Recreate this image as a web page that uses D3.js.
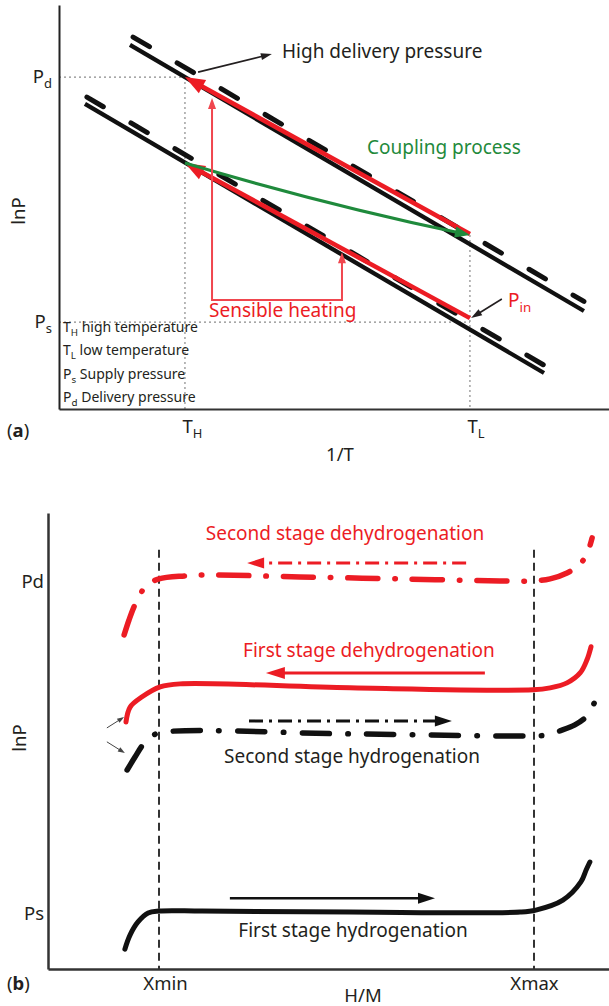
<!DOCTYPE html>
<html>
<head>
<meta charset="utf-8">
<script src="https://cdn.jsdelivr.net/npm/d3@7"></script>
<style>
  body { margin: 0; background: #fff; }
  svg { display: block; font-family: "Noto Sans", sans-serif; }
</style>
</head>
<body>
<svg id="chart" width="609" height="1006"></svg>
<script>
// ---------- Panel (a): lnP against 1/T  (T_H = 1, T_L = 2, P_s = 1, P_d = 2) ----------
const aXTicks = [1, 2];
const aXTickLabels = [["T", "H"], ["T", "L"]];
const aYTicks = [1, 2];
const aYTickLabels = [["P", "s"], ["P", "d"]];

const isoHighSolid = [[0.807, 2.131], [2.400, 1.045]];
const isoHighDashed = [[0.818, 2.163], [2.400, 1.084]];
const isoLowSolid = [[0.649, 1.890], [2.260, 0.792]];
const isoLowDashed = [[0.656, 1.918], [2.267, 0.819]];

const redHigh = [[2.0, 1.359], [1.0, 2.0]];
const redLow = [[2.0, 1.016], [1.0, 1.649]];
const coupling = [[1.0, 1.649], [1.5, 1.489], [2.0, 1.355]];
const sensible = [[1.095, 1.914], [1.095, 1.090], [1.551, 1.090], [1.551, 1.285]];
const pointerHigh = [[1.046, 2.020], [1.305, 2.094]];
const pointerPin = [[2.112, 1.094], [2.004, 1.016]];

const legendA = [
  ["T", "H", " high temperature"],
  ["T", "L", " low temperature"],
  ["P", "s", " Supply pressure"],
  ["P", "d", " Delivery pressure"]
];

// ---------- Panel (b): lnP against H/M  (Xmin = 1, Xmax = 2, Ps = 1, Pd = 2) ----------
const bXTicks = [1, 2];
const bXTickLabels = ["Xmin", "Xmax"];
const bYTicks = [1, 2];
const bYTickLabels = ["Ps", "Pd"];
const bGuideTop = 2.097;

const hydro1 = [[0.909, 0.891], [0.923, 0.934], [0.944, 0.973], [0.971, 1.0], [1.0, 1.006], [1.115, 1.006],
  [1.509, 1.003], [1.963, 1.003], [2.005, 1.009], [2.077, 1.039], [2.125, 1.094], [2.139, 1.130], [2.149, 1.154]];
const hydro2 = [[0.915, 1.432], [0.936, 1.471], [0.957, 1.508], [0.976, 1.529], [1.0, 1.544], [1.509, 1.541],
  [2.0, 1.535], [2.037, 1.538], [2.069, 1.550], [2.109, 1.568], [2.141, 1.595], [2.168, 1.653]];
const dehydro1 = [[0.912, 1.577], [0.923, 1.622], [0.955, 1.653], [1.003, 1.683], [1.056, 1.692], [1.509, 1.680],
  [1.997, 1.674], [2.043, 1.680], [2.088, 1.695], [2.123, 1.725], [2.141, 1.764], [2.152, 1.804]];
const dehydro2 = [[0.907, 1.840], [0.920, 1.885], [0.933, 1.924], [0.949, 1.961], [0.968, 1.991], [1.0, 2.009],
  [1.069, 2.018], [1.115, 2.021], [1.376, 2.015], [1.643, 2.009], [1.909, 2.003], [2.0, 2.003], [2.043, 2.009],
  [2.088, 2.027], [2.117, 2.048], [2.139, 2.079], [2.155, 2.133]];

const arrowHydro1 = [[1.189, 1.045], [1.736, 1.045]];
const arrowHydro2 = [[1.240, 1.580], [1.781, 1.580]];
const arrowDehydro1 = [[1.869, 1.725], [1.285, 1.725]];
const arrowDehydro2 = [[1.819, 2.057], [1.235, 2.057]];
const pointerRed = [[0.861, 1.559], [0.907, 1.592]];
const pointerBlack = [[0.861, 1.517], [0.909, 1.483]];

// ---------- colours ----------
const ink = "#231f20";
const red = "#ec1c24";
const redThin = "#f0464e";
const green = "#1f8a3c";

const svg = d3.select("#chart");

// draws a polyline (pixel points) with filled triangle heads
function drawArrow(g, pts, o) {
  const n = pts.length;
  const p = pts.map(d => d.slice());
  const pull = (a, b, L) => {
    const dx = b[0] - a[0], dy = b[1] - a[1], d = Math.hypot(dx, dy);
    return [b[0] - dx / d * L, b[1] - dy / d * L];
  };
  const heads = [];
  if (o.end !== false) { heads.push([pts[n - 2], pts[n - 1]]); p[n - 1] = pull(pts[n - 2], pts[n - 1], o.len * 0.7); }
  if (o.start) { heads.push([pts[1], pts[0]]); p[0] = pull(pts[1], pts[0], o.len * 0.7); }
  g.append("path")
    .attr("d", d3.line()(p))
    .attr("fill", "none")
    .attr("stroke", o.color)
    .attr("stroke-width", o.width)
    .attr("stroke-dasharray", o.dash || null);
  heads.forEach(([a, b]) => drawHead(g, a, b, o));
}

function drawHead(g, a, b, o) {
  const ang = Math.atan2(b[1] - a[1], b[0] - a[0]) * 180 / Math.PI;
  g.append("path")
    .attr("d", `M0,0L${-o.len},${o.wid / 2}L${-o.len},${-o.wid / 2}Z`)
    .attr("transform", `translate(${b[0]},${b[1]}) rotate(${ang})`)
    .attr("fill", o.color);
}

// text with a subscript, e.g. T_H
function subText(t, main, sub, rest, fs) {
  t.append("tspan").text(main);
  t.append("tspan").attr("font-size", fs * 0.7).attr("dy", fs * 0.28).text(sub);
  if (rest) t.append("tspan").attr("dy", -fs * 0.28).text(rest);
}

// =================== PANEL A ===================
const xA = d3.scaleLinear().domain([0.558, 2.488]).range([59, 609]);
const yA = d3.scaleLinear().domain([0.645, 2.294]).range([409, 5]);
const pa = d => [xA(d[0]), yA(d[1])];
const gA = svg.append("g");

// dotted guides
const guideA = [
  [[xA.domain()[0], 2], [1, 2]],
  [[1, 2], [1, yA.domain()[0]]],
  [[xA.domain()[0], 1], [2, 1]],
  [[2, 1.355], [2, yA.domain()[0]]]
];
gA.selectAll(".guide").data(guideA).join("path")
  .attr("d", d => d3.line()(d.map(pa)))
  .attr("stroke", "#8a8a8a").attr("stroke-width", 1.2).attr("stroke-dasharray", "2,3").attr("fill", "none");

// axes
const axAx = gA.append("g").attr("transform", `translate(0,${yA.range()[0]})`)
  .call(d3.axisBottom(xA).tickValues(aXTicks).tickSize(0).tickSizeOuter(0).tickFormat(""));
const axAy = gA.append("g").attr("transform", `translate(${xA.range()[0]},0)`)
  .call(d3.axisLeft(yA).tickValues(aYTicks).tickSize(0).tickSizeOuter(0).tickFormat(""));
axAx.select(".domain").attr("stroke", "#333").attr("stroke-width", 2);
axAy.select(".domain").attr("stroke", "#222").attr("stroke-width", 2);
[axAx, axAy].forEach(a => a.attr("font-family", null).attr("font-size", 18.5));
axAx.selectAll(".tick text").each(function (d, i) {
  const t = d3.select(this).attr("text-anchor", "start").attr("x", -3).attr("y", 24).attr("dy", 0).attr("fill", ink);
  subText(t, aXTickLabels[i][0], aXTickLabels[i][1], null, 18.5);
});
axAy.selectAll(".tick text").each(function (d, i) {
  const t = d3.select(this).attr("x", -7).attr("dy", "0.3em").attr("fill", ink);
  subText(t, aYTickLabels[i][0], aYTickLabels[i][1], null, 18.5);
});

// isotherm lines
const lineA = d3.line().x(d => xA(d[0])).y(d => yA(d[1]));
[isoHighSolid, isoLowSolid].forEach(l => gA.append("path").attr("d", lineA(l))
  .attr("stroke", "#111").attr("stroke-width", 4.3).attr("fill", "none"));
[isoHighDashed, isoLowDashed].forEach(l => gA.append("path").attr("d", lineA(l))
  .attr("stroke", "#111").attr("stroke-width", 5).attr("stroke-linecap", "round")
  .attr("stroke-dasharray", "19,32").attr("fill", "none"));

// red process arrows
drawArrow(gA, redHigh.map(pa), { color: red, width: 4.5, len: 20, wid: 15 });
drawArrow(gA, redLow.map(pa), { color: red, width: 4.5, len: 20, wid: 15 });

// coupling (green, slightly bowed)
{
  const [p0, pm, p2] = coupling.map(pa);
  const c = [2 * pm[0] - (p0[0] + p2[0]) / 2, 2 * pm[1] - (p0[1] + p2[1]) / 2];
  const dx = p2[0] - c[0], dy = p2[1] - c[1], dl = Math.hypot(dx, dy);
  const e = [p2[0] - dx / dl * 10, p2[1] - dy / dl * 10];
  const path = d3.path();
  path.moveTo(p0[0], p0[1]);
  path.quadraticCurveTo(c[0], c[1], e[0], e[1]);
  gA.append("path").attr("d", path.toString()).attr("stroke", green).attr("stroke-width", 3).attr("fill", "none");
  drawHead(gA, c, p2, { color: green, len: 15, wid: 11 });
}

// sensible heating bracket
drawArrow(gA, sensible.map(pa), { color: redThin, width: 2, len: 11, wid: 8, start: true });

// pointers
drawArrow(gA, pointerHigh.map(pa), { color: ink, width: 1.6, len: 11, wid: 7 });
drawArrow(gA, pointerPin.map(pa), { color: ink, width: 1.6, len: 11, wid: 7 });

// annotation text
gA.append("text").attr("x", 282).attr("y", 58).attr("font-size", 19).attr("fill", ink).text("High delivery pressure");
gA.append("text").attr("x", 367).attr("y", 154).attr("font-size", 19).attr("fill", green).text("Coupling process");
gA.append("text").attr("x", 209).attr("y", 317).attr("font-size", 19).attr("fill", red).text("Sensible heating");
subText(gA.append("text").attr("x", 508).attr("y", 307).attr("font-size", 19).attr("fill", red), "P", "in", null, 19);

gA.selectAll(".legend").data(legendA).join("text")
  .attr("x", 63).attr("y", (d, i) => 332 + i * 23.3)
  .attr("font-size", 14).attr("fill", ink)
  .each(function (d) { subText(d3.select(this), d[0], d[1], d[2], 14); });

gA.append("text").attr("transform", "translate(25,211) rotate(-90)").attr("text-anchor", "middle")
  .attr("font-size", 18.5).attr("fill", ink).text("lnP");
gA.append("text").attr("x", 340).attr("y", 461).attr("text-anchor", "middle")
  .attr("font-size", 18.5).attr("fill", ink).text("1/T");
{
  const t = gA.append("text").attr("x", 7).attr("y", 437).attr("font-size", 18.5).attr("fill", ink);
  t.append("tspan").text("(");
  t.append("tspan").attr("font-weight", "bold").text("a");
  t.append("tspan").text(")");
}

// =================== PANEL B ===================
const xB = d3.scaleLinear().domain([0.704, 2.2]).range([48, 609]);
const yB = d3.scaleLinear().domain([0.831, 2.208]).range([969, 513]);
const pb = d => [xB(d[0]), yB(d[1])];
const gB = svg.append("g");

// Xmin / Xmax dashed guides
gB.selectAll(".vguide").data(bXTicks).join("line")
  .attr("x1", d => xB(d)).attr("x2", d => xB(d))
  .attr("y1", yB(bGuideTop)).attr("y2", yB.range()[0])
  .attr("stroke", "#333").attr("stroke-width", 2).attr("stroke-dasharray", "8,5");

const axBx = gB.append("g").attr("transform", `translate(0,${yB.range()[0]})`)
  .call(d3.axisBottom(xB).tickValues(bXTicks).tickSize(0).tickSizeOuter(0).tickFormat((d, i) => bXTickLabels[i]));
const axBy = gB.append("g").attr("transform", `translate(${xB.range()[0]},0)`)
  .call(d3.axisLeft(yB).tickValues(bYTicks).tickSize(0).tickSizeOuter(0).tickFormat((d, i) => bYTickLabels[i]));
[axBx, axBy].forEach(a => {
  a.attr("font-family", null).attr("font-size", 18.5);
  a.select(".domain").attr("stroke", "#333").attr("stroke-width", 2.5);
  a.selectAll(".tick text").attr("fill", ink);
});
axBx.selectAll(".tick text").attr("y", 21).attr("dy", 0).attr("dx", (d, i) => i === 0 ? 6 : 0);
axBy.selectAll(".tick text").attr("x", -4).attr("dy", "0.33em");

const curveB = d3.line().x(d => xB(d[0])).y(d => yB(d[1])).curve(d3.curveCatmullRom.alpha(0.5));

gB.append("path").attr("d", curveB(hydro1)).attr("stroke", "#111").attr("stroke-width", 5)
  .attr("stroke-linecap", "round").attr("fill", "none");
gB.append("path").attr("d", curveB(hydro2)).attr("stroke", "#111").attr("stroke-width", 5.5)
  .attr("stroke-linecap", "round").attr("stroke-dasharray", "27,18.5,0.5,18.5").attr("fill", "none");
gB.append("path").attr("d", curveB(dehydro1)).attr("stroke", red).attr("stroke-width", 5)
  .attr("stroke-linecap", "round").attr("fill", "none");
gB.append("path").attr("d", curveB(dehydro2)).attr("stroke", red).attr("stroke-width", 5.5)
  .attr("stroke-linecap", "round").attr("stroke-dasharray", "30,17,0.5,17").attr("fill", "none");

drawArrow(gB, arrowHydro1.map(pb), { color: "#111", width: 2.5, len: 17, wid: 11 });
drawArrow(gB, arrowHydro2.map(pb), { color: "#111", width: 3, len: 17, wid: 11, dash: "14,6,3,6" });
drawArrow(gB, arrowDehydro1.map(pb), { color: red, width: 3, len: 19, wid: 12 });
drawArrow(gB, arrowDehydro2.map(pb), { color: red, width: 3, len: 17, wid: 11, dash: "14,6,3,6" });
drawArrow(gB, pointerRed.map(pb), { color: "#444", width: 1, len: 7, wid: 5 });
drawArrow(gB, pointerBlack.map(pb), { color: "#444", width: 1, len: 7, wid: 5 });

const labelsB = [
  { text: "Second stage dehydrogenation", x: 345, y: 540, color: red },
  { text: "First stage dehydrogenation", x: 369, y: 657, color: red },
  { text: "Second stage hydrogenation", x: 352, y: 763, color: ink },
  { text: "First stage hydrogenation", x: 353, y: 937, color: ink }
];
gB.selectAll(".lab").data(labelsB).join("text")
  .attr("x", d => d.x).attr("y", d => d.y).attr("text-anchor", "middle")
  .attr("font-size", 19).attr("fill", d => d.color).text(d => d.text);

gB.append("text").attr("transform", "translate(26,738) rotate(-90)").attr("text-anchor", "middle")
  .attr("font-size", 18.5).attr("fill", ink).text("lnP");
gB.append("text").attr("x", 363).attr("y", 1002).attr("text-anchor", "middle")
  .attr("font-size", 18.5).attr("fill", ink).text("H/M");
{
  const t = gB.append("text").attr("x", 7).attr("y", 990).attr("font-size", 18.5).attr("fill", ink);
  t.append("tspan").text("(");
  t.append("tspan").attr("font-weight", "bold").text("b");
  t.append("tspan").text(")");
}
</script>
</body>
</html>
